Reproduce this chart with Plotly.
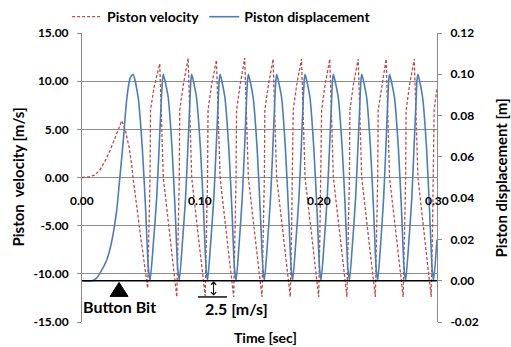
import plotly.graph_objects as go

# ---- piston velocity [m/s] versus time [sec] ----
vel_time = [
    0.0000, 0.0051, 0.0110, 0.0152, 0.0194, 0.0237, 0.0279, 0.0313, 0.0336, 0.0364,
    0.0397, 0.0418, 0.0431, 0.0493, 0.0555,
    0.0565, 0.0575, 0.0579, 0.0609, 0.0657, 0.0672, 0.0687, 0.0744, 0.0801,
    0.0812, 0.0822, 0.0826, 0.0856, 0.0897, 0.0912, 0.0927, 0.0984, 0.1041,
    0.1051, 0.1061, 0.1065, 0.1095, 0.1136, 0.1151, 0.1167, 0.1224, 0.1282,
    0.1292, 0.1302, 0.1306, 0.1336, 0.1375, 0.1391, 0.1406, 0.1463, 0.1521,
    0.1531, 0.1541, 0.1545, 0.1575, 0.1615, 0.1630, 0.1645, 0.1703, 0.1760,
    0.1770, 0.1780, 0.1785, 0.1814, 0.1855, 0.1870, 0.1885, 0.1943, 0.2000,
    0.2010, 0.2020, 0.2025, 0.2054, 0.2094, 0.2109, 0.2124, 0.2182, 0.2239,
    0.2249, 0.2260, 0.2264, 0.2293, 0.2334, 0.2349, 0.2364, 0.2421, 0.2479,
    0.2489, 0.2499, 0.2503, 0.2533, 0.2570, 0.2585, 0.2599, 0.2657, 0.2714,
    0.2725, 0.2735, 0.2739, 0.2768, 0.2808, 0.2823, 0.2839, 0.2895, 0.2951,
    0.2961, 0.2971, 0.2976, 0.3000,
]
velocity = [
    0.0, 0.05, 0.25, 0.8, 1.7, 2.8, 4.1, 5.3, 5.9, 5.0,
    3.2, 1.5, 0.0, -5.9, -11.5,
    -5.8, 0.0, 7.0, 9.4, 11.8, 5.9, 0.0, -6.2, -12.4,
    -6.2, 0.0, 7.0, 9.6, 12.4, 6.2, 0.0, -6.2, -12.3,
    -6.2, 0.0, 7.0, 9.6, 12.2, 6.1, 0.0, -6.2, -12.4,
    -6.2, 0.0, 7.0, 9.6, 12.4, 6.2, 0.0, -6.2, -12.4,
    -6.2, 0.0, 7.0, 9.6, 12.3, 6.2, 0.0, -6.2, -12.4,
    -6.2, 0.0, 7.0, 9.6, 12.3, 6.2, 0.0, -6.2, -12.4,
    -6.2, 0.0, 7.0, 9.6, 12.3, 6.2, 0.0, -6.2, -12.4,
    -6.2, 0.0, 7.0, 9.6, 12.3, 6.2, 0.0, -6.2, -12.4,
    -6.2, 0.0, 7.0, 9.6, 12.3, 6.2, 0.0, -6.2, -12.4,
    -6.2, 0.0, 7.0, 9.6, 12.3, 6.2, 0.0, -6.2, -12.4,
    -6.2, 0.0, 7.0, 9.3,
]

# ---- piston displacement [m] versus time [sec] ----
disp_time = [
    0.0000, 0.0085, 0.0118, 0.0152, 0.0209, 0.0251, 0.0293, 0.0315, 0.0349, 0.0378, 0.0406, 0.0431,
    0.0474, 0.0510, 0.0539, 0.0560, 0.0575,
    0.0603, 0.0631, 0.0653, 0.0670, 0.0680, 0.0687,
    0.0728, 0.0761, 0.0788, 0.0808, 0.0822,
    0.0848, 0.0875, 0.0896, 0.0912, 0.0920, 0.0927,
    0.0967, 0.1001, 0.1028, 0.1048, 0.1061,
    0.1087, 0.1114, 0.1135, 0.1151, 0.1159, 0.1167,
    0.1207, 0.1241, 0.1268, 0.1288, 0.1302,
    0.1328, 0.1354, 0.1375, 0.1390, 0.1399, 0.1406,
    0.1446, 0.1480, 0.1507, 0.1528, 0.1541,
    0.1567, 0.1593, 0.1614, 0.1629, 0.1638, 0.1645,
    0.1686, 0.1719, 0.1746, 0.1767, 0.1780,
    0.1806, 0.1833, 0.1854, 0.1869, 0.1878, 0.1885,
    0.1926, 0.1959, 0.1987, 0.2007, 0.2020,
    0.2046, 0.2072, 0.2093, 0.2109, 0.2117, 0.2124,
    0.2165, 0.2199, 0.2226, 0.2246, 0.2260,
    0.2286, 0.2312, 0.2333, 0.2349, 0.2357, 0.2364,
    0.2405, 0.2438, 0.2465, 0.2485, 0.2499,
    0.2524, 0.2549, 0.2569, 0.2584, 0.2592, 0.2599,
    0.2640, 0.2674, 0.2701, 0.2721, 0.2735,
    0.2761, 0.2787, 0.2807, 0.2823, 0.2831, 0.2839,
    0.2878, 0.2912, 0.2938, 0.2958, 0.2971,
    0.3000,
]
displacement = [
    0.0, 0.0, 0.001, 0.0037, 0.010, 0.019, 0.034, 0.047, 0.068, 0.088, 0.098, 0.100,
    0.089, 0.064, 0.033, 0.0065, 0.0,
    0.018, 0.040, 0.066, 0.087, 0.097, 0.100,
    0.089, 0.064, 0.033, 0.0065, 0.0,
    0.018, 0.040, 0.066, 0.087, 0.097, 0.100,
    0.089, 0.064, 0.033, 0.0065, 0.0,
    0.018, 0.040, 0.066, 0.087, 0.097, 0.100,
    0.089, 0.064, 0.033, 0.0065, 0.0,
    0.018, 0.040, 0.066, 0.087, 0.097, 0.100,
    0.089, 0.064, 0.033, 0.0065, 0.0,
    0.018, 0.040, 0.066, 0.087, 0.097, 0.100,
    0.089, 0.064, 0.033, 0.0065, 0.0,
    0.018, 0.040, 0.066, 0.087, 0.097, 0.100,
    0.089, 0.064, 0.033, 0.0065, 0.0,
    0.018, 0.040, 0.066, 0.087, 0.097, 0.100,
    0.089, 0.064, 0.033, 0.0065, 0.0,
    0.018, 0.040, 0.066, 0.087, 0.097, 0.100,
    0.089, 0.064, 0.033, 0.0065, 0.0,
    0.018, 0.040, 0.066, 0.087, 0.097, 0.100,
    0.089, 0.064, 0.033, 0.0065, 0.0,
    0.018, 0.040, 0.066, 0.087, 0.097, 0.100,
    0.089, 0.064, 0.033, 0.0065, 0.0,
    0.020,
]

# ---- axis ticks ----
time_ticks = [0.0, 0.1, 0.2, 0.3]
time_labels = ["0.00", "0.10", "0.20", "0.30"]
vel_ticks = [-15, -10, -5, 0, 5, 10, 15]
vel_labels = ["-15.00", "-10.00", "-5.00", "0.00", "5.00", "10.00", "15.00"]
disp_ticks = [-0.02, 0.0, 0.02, 0.04, 0.06, 0.08, 0.10, 0.12]
disp_labels = ["-0.02", "0.00", "0.02", "0.04", "0.06", "0.08", "0.10", "0.12"]

# ---- annotation anchors ----
bit_time = 0.0313          # button bit marker position
bit_base_vel = -12.34      # base of the marker triangle
bit_label_vel = -13.35
stroke_time = 0.1112       # double arrow position
stroke_top_vel = -10.78    # displacement zero level on the velocity axis
stroke_low_vel = -12.4     # minimum velocity level
stroke_bar = [0.0980, 0.1226]
stroke_label_time = 0.1306
stroke_label_vel = -13.6

RED = "#BE4B48"
BLUE = "#4A7EBB"
GRID = "#8C8C8C"
FONT = "Lato"


def bold(size):
    return dict(family=FONT, size=size, color="black", weight="bold")


fig = go.Figure()
fig.add_trace(go.Scatter(
    x=vel_time, y=velocity, name="Piston velocity", mode="lines",
    line=dict(color=RED, width=1.3, dash="3px,2px"), yaxis="y",
))
fig.add_trace(go.Scatter(
    x=disp_time, y=displacement, name="Piston displacement", mode="lines",
    line=dict(color=BLUE, width=1.6, shape="spline", smoothing=0.6), yaxis="y2",
))

fig.update_layout(
    width=511, height=347,
    margin=dict(l=82, r=74, t=33, b=25, autoexpand=False),
    paper_bgcolor="white", plot_bgcolor="white",
    font=bold(12),
    showlegend=True,
    legend=dict(
        orientation="h", x=-0.042, xanchor="left", y=1.055, yanchor="middle",
        font=bold(14), bgcolor="rgba(0,0,0,0)", itemwidth=30, tracegroupgap=0,
    ),
    xaxis=dict(
        range=[0, 0.3], showgrid=False, zeroline=False, showline=False,
        showticklabels=False, ticks="",
    ),
    yaxis=dict(
        range=[-15, 15], tickvals=vel_ticks, ticktext=vel_labels,
        showgrid=True, gridcolor=GRID, gridwidth=1, zeroline=False,
        showline=True, linecolor=GRID, linewidth=1,
        ticks="outside", ticklen=4, tickcolor=GRID, ticklabelstandoff=6,
        tickfont=bold(12),
    ),
    yaxis2=dict(
        range=[-0.02, 0.12], tickvals=disp_ticks, ticktext=disp_labels,
        overlaying="y", side="right", showgrid=False, zeroline=False,
        showline=True, linecolor=GRID, linewidth=1,
        ticks="outside", ticklen=4, tickcolor=GRID, ticklabelstandoff=6,
        tickfont=bold(12),
    ),
)

annotations = []
# time tick labels sit just below the zero-velocity line
for tv, tl in zip(time_ticks, time_labels):
    annotations.append(dict(
        x=tv, y=0, xref="x", yref="y", text=tl, showarrow=False,
        yshift=-23, font=bold(12),
    ))
# axis titles
annotations.append(dict(
    x=-0.183, y=0.5, xref="paper", yref="paper", text="Piston  velocity [m/s]",
    xanchor="center", yanchor="middle", textangle=-90, showarrow=False, font=bold(15),
))
annotations.append(dict(
    x=1.18, y=0.5, xref="paper", yref="paper", text="Piston displacement [m]",
    xanchor="center", yanchor="middle", textangle=-90, showarrow=False, font=bold(15),
))
annotations.append(dict(
    x=0.518, y=-0.055, xref="paper", yref="paper", text="Time [sec]",
    xanchor="center", yanchor="middle", showarrow=False, font=bold(14),
))
# button bit label
annotations.append(dict(
    x=bit_time, y=bit_label_vel, xref="x", yref="y", text="Button Bit",
    showarrow=False, font=bold(16),
))
# rebound double arrow and its label
annotations.append(dict(
    x=stroke_time, y=stroke_top_vel, ax=stroke_time, ay=stroke_low_vel,
    xref="x", yref="y", axref="x", ayref="y", text="", showarrow=True,
    arrowhead=4, startarrowhead=4, arrowside="end+start", arrowsize=1,
    arrowwidth=1, arrowcolor="black",
))
annotations.append(dict(
    x=stroke_label_time, y=stroke_label_vel, xref="x", yref="y", text="2.5 [m/s]",
    showarrow=False, font=bold(16),
))
fig.update_layout(annotations=annotations)

shapes = [
    # zero-displacement reference line
    dict(type="line", xref="x", yref="y2", x0=0, x1=0.3, y0=0, y1=0,
         line=dict(color="black", width=1.6), layer="above"),
    # minimum velocity bar under the double arrow
    dict(type="line", xref="x", yref="y", x0=stroke_bar[0], x1=stroke_bar[1],
         y0=stroke_low_vel, y1=stroke_low_vel,
         line=dict(color="black", width=1.4), layer="above"),
    # button bit marker
    dict(type="path", xref="x", yref="y", xsizemode="pixel", ysizemode="pixel",
         xanchor=bit_time, yanchor=bit_base_vel,
         path="M-9,0 L9,0 L0,14 Z", fillcolor="black",
         line=dict(color="black", width=1), layer="above"),
]
fig.update_layout(shapes=shapes)

fig.write_html("out.html")
